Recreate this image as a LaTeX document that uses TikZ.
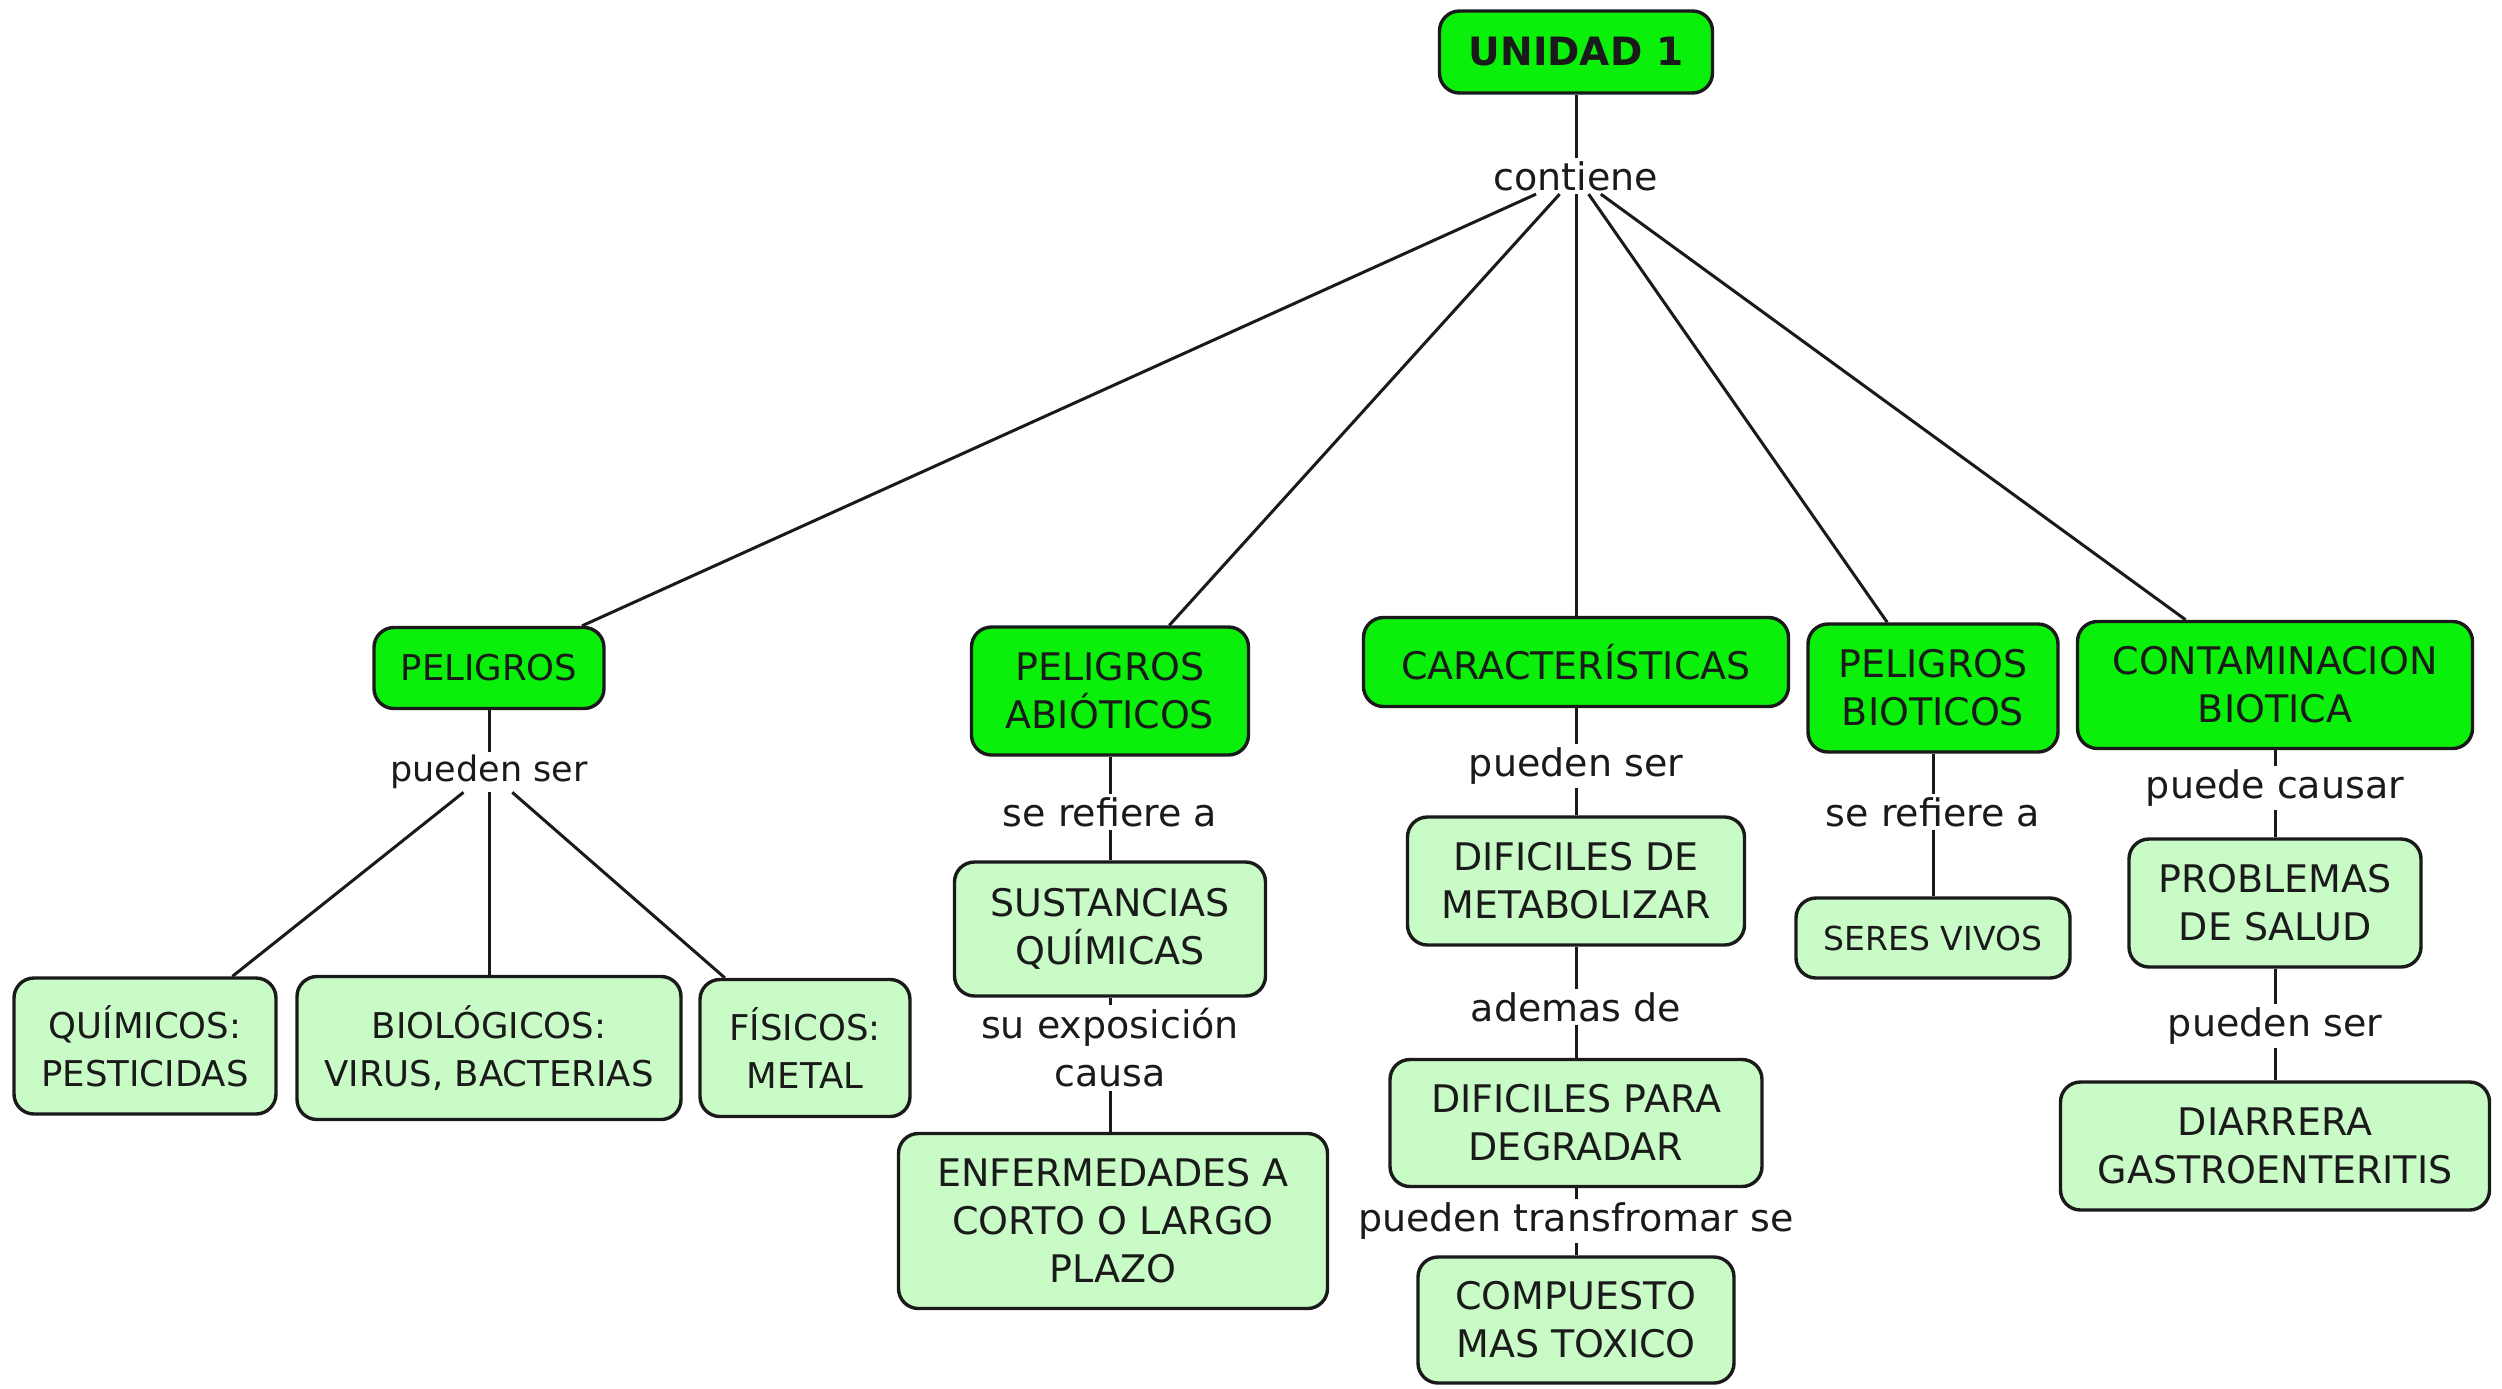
\documentclass[tikz,border=0pt]{standalone}
\usepackage{fontspec}
\setmainfont{DejaVu Sans}
\definecolor{bright}{RGB}{10,240,10}
\definecolor{pale}{RGB}{200,251,198}
\definecolor{ink}{RGB}{26,26,26}
\tikzset{
  concept/.style={draw=ink, line width=1.7pt, rounded corners=10pt, align=center, text=ink, inner sep=0pt, font=\fontsize{19}{24}\selectfont},
  main/.style={concept, fill=bright},
  sub/.style={concept, fill=pale},
  narrow/.style={font=\fontsize{17.75}{24}\selectfont},
  linkw/.style={text=ink, inner sep=1.5pt, align=center, font=\fontsize{19}{24}\selectfont},
  conn/.style={draw=ink, line width=1.5pt},
}
\begin{document}
\begin{tikzpicture}[x=0.5pt,y=-0.5pt]
\useasboundingbox (0,0) rectangle (2502,1388);
\fill[white] (0,0) rectangle (2502,1388);
% top
\node[main, minimum width=136.5pt, minimum height=41pt, font=\bfseries\fontsize{19.5}{24}\selectfont] (unidad) at (1576,52) {UNIDAD 1};
\node[linkw] (contiene) at (1576,176) {contiene};
% main concepts
\node[main, narrow, minimum width=115pt, minimum height=40.5pt] (peligros) at (489,668) {PELIGROS};
\node[main, minimum width=138.5pt, minimum height=64pt] (abio) at (1110,691) {PELIGROS\\ABIÓTICOS};
\node[main, minimum width=212.5pt, minimum height=44.5pt] (carac) at (1576,662) {CARACTERÍSTICAS};
\node[main, minimum width=125pt, minimum height=64pt] (biot) at (1933,688) {PELIGROS\\BIOTICOS};
\node[main, minimum width=197.5pt, minimum height=63.5pt] (contam) at (2275,685) {CONTAMINACION\\BIOTICA};
% peligros branch
\node[linkw, font=\fontsize{17.5}{24}\selectfont] (lps1) at (489,772) {pueden ser};
\node[sub, narrow, minimum width=131pt, minimum height=68pt] (quim) at (145,1046) {QUÍMICOS:\\PESTICIDAS};
\node[sub, narrow, minimum width=192pt, minimum height=71.5pt] (bio) at (489,1048) {BIOLÓGICOS:\\VIRUS, BACTERIAS};
\node[sub, narrow, minimum width=105pt, minimum height=68.5pt] (fis) at (805,1048) {FÍSICOS:\\METAL};
% abioticos branch
\node[linkw] (lref1) at (1110,812) {se refiere a};
\node[sub, minimum width=155.5pt, minimum height=67pt] (sust) at (1110,929) {SUSTANCIAS\\QUÍMICAS};
\node[linkw] (lexp) at (1110,1048) {su exposición\\causa};
\node[sub, minimum width=214.5pt, minimum height=87.5pt] (enf) at (1113,1221) {ENFERMEDADES A\\CORTO O LARGO\\PLAZO};
% caracteristicas branch
\node[linkw] (lps2) at (1576,766) {pueden ser};
\node[sub, minimum width=168.5pt, minimum height=64pt] (dif1) at (1576,881) {DIFICILES DE\\METABOLIZAR};
\node[linkw] (lademas) at (1576,1007) {ademas de};
\node[sub, minimum width=186pt, minimum height=63.5pt] (dif2) at (1576,1123) {DIFICILES PARA\\DEGRADAR};
\node[linkw] (ltrans) at (1576,1221) {pueden transfromar se};
\node[sub, minimum width=158pt, minimum height=63pt] (comp) at (1576,1320) {COMPUESTO\\MAS TOXICO};
% bioticos branch
\node[linkw] (lref2) at (1933,812) {se refiere a};
\node[sub, font=\fontsize{16.5}{24}\selectfont, minimum width=137pt, minimum height=40pt] (seres) at (1933,938) {SERES VIVOS};
% contaminacion branch
\node[linkw] (lcausar) at (2275,788) {puede causar};
\node[sub, minimum width=146pt, minimum height=64pt] (prob) at (2275,903) {PROBLEMAS\\DE SALUD};
\node[linkw] (lps3) at (2275,1026) {pueden ser};
\node[sub, minimum width=214.5pt, minimum height=64pt] (diarr) at (2275,1146) {DIARRERA\\GASTROENTERITIS};
% connectors
\draw[conn] (unidad) -- (contiene);
\draw[conn] (contiene) -- (peligros);
\draw[conn] (contiene) -- (abio);
\draw[conn] (contiene) -- (carac);
\draw[conn] (contiene) -- (biot);
\draw[conn] (contiene) -- (contam);
\draw[conn] (peligros) -- (lps1);
\draw[conn] (lps1) -- (quim);
\draw[conn] (lps1) -- (bio);
\draw[conn] (lps1) -- (fis);
\draw[conn] (abio) -- (lref1);
\draw[conn] (lref1) -- (sust);
\draw[conn] (sust) -- (lexp);
\draw[conn] (lexp) -- (lexp |- enf.north);
\draw[conn] (carac) -- (lps2);
\draw[conn] (lps2) -- (dif1);
\draw[conn] (dif1) -- (lademas);
\draw[conn] (lademas) -- (dif2);
\draw[conn] (dif2) -- (ltrans);
\draw[conn] (ltrans) -- (comp);
\draw[conn] (biot) -- (lref2);
\draw[conn] (lref2) -- (seres);
\draw[conn] (contam) -- (lcausar);
\draw[conn] (lcausar) -- (prob);
\draw[conn] (prob) -- (lps3);
\draw[conn] (lps3) -- (diarr);
\end{tikzpicture}
\end{document}
